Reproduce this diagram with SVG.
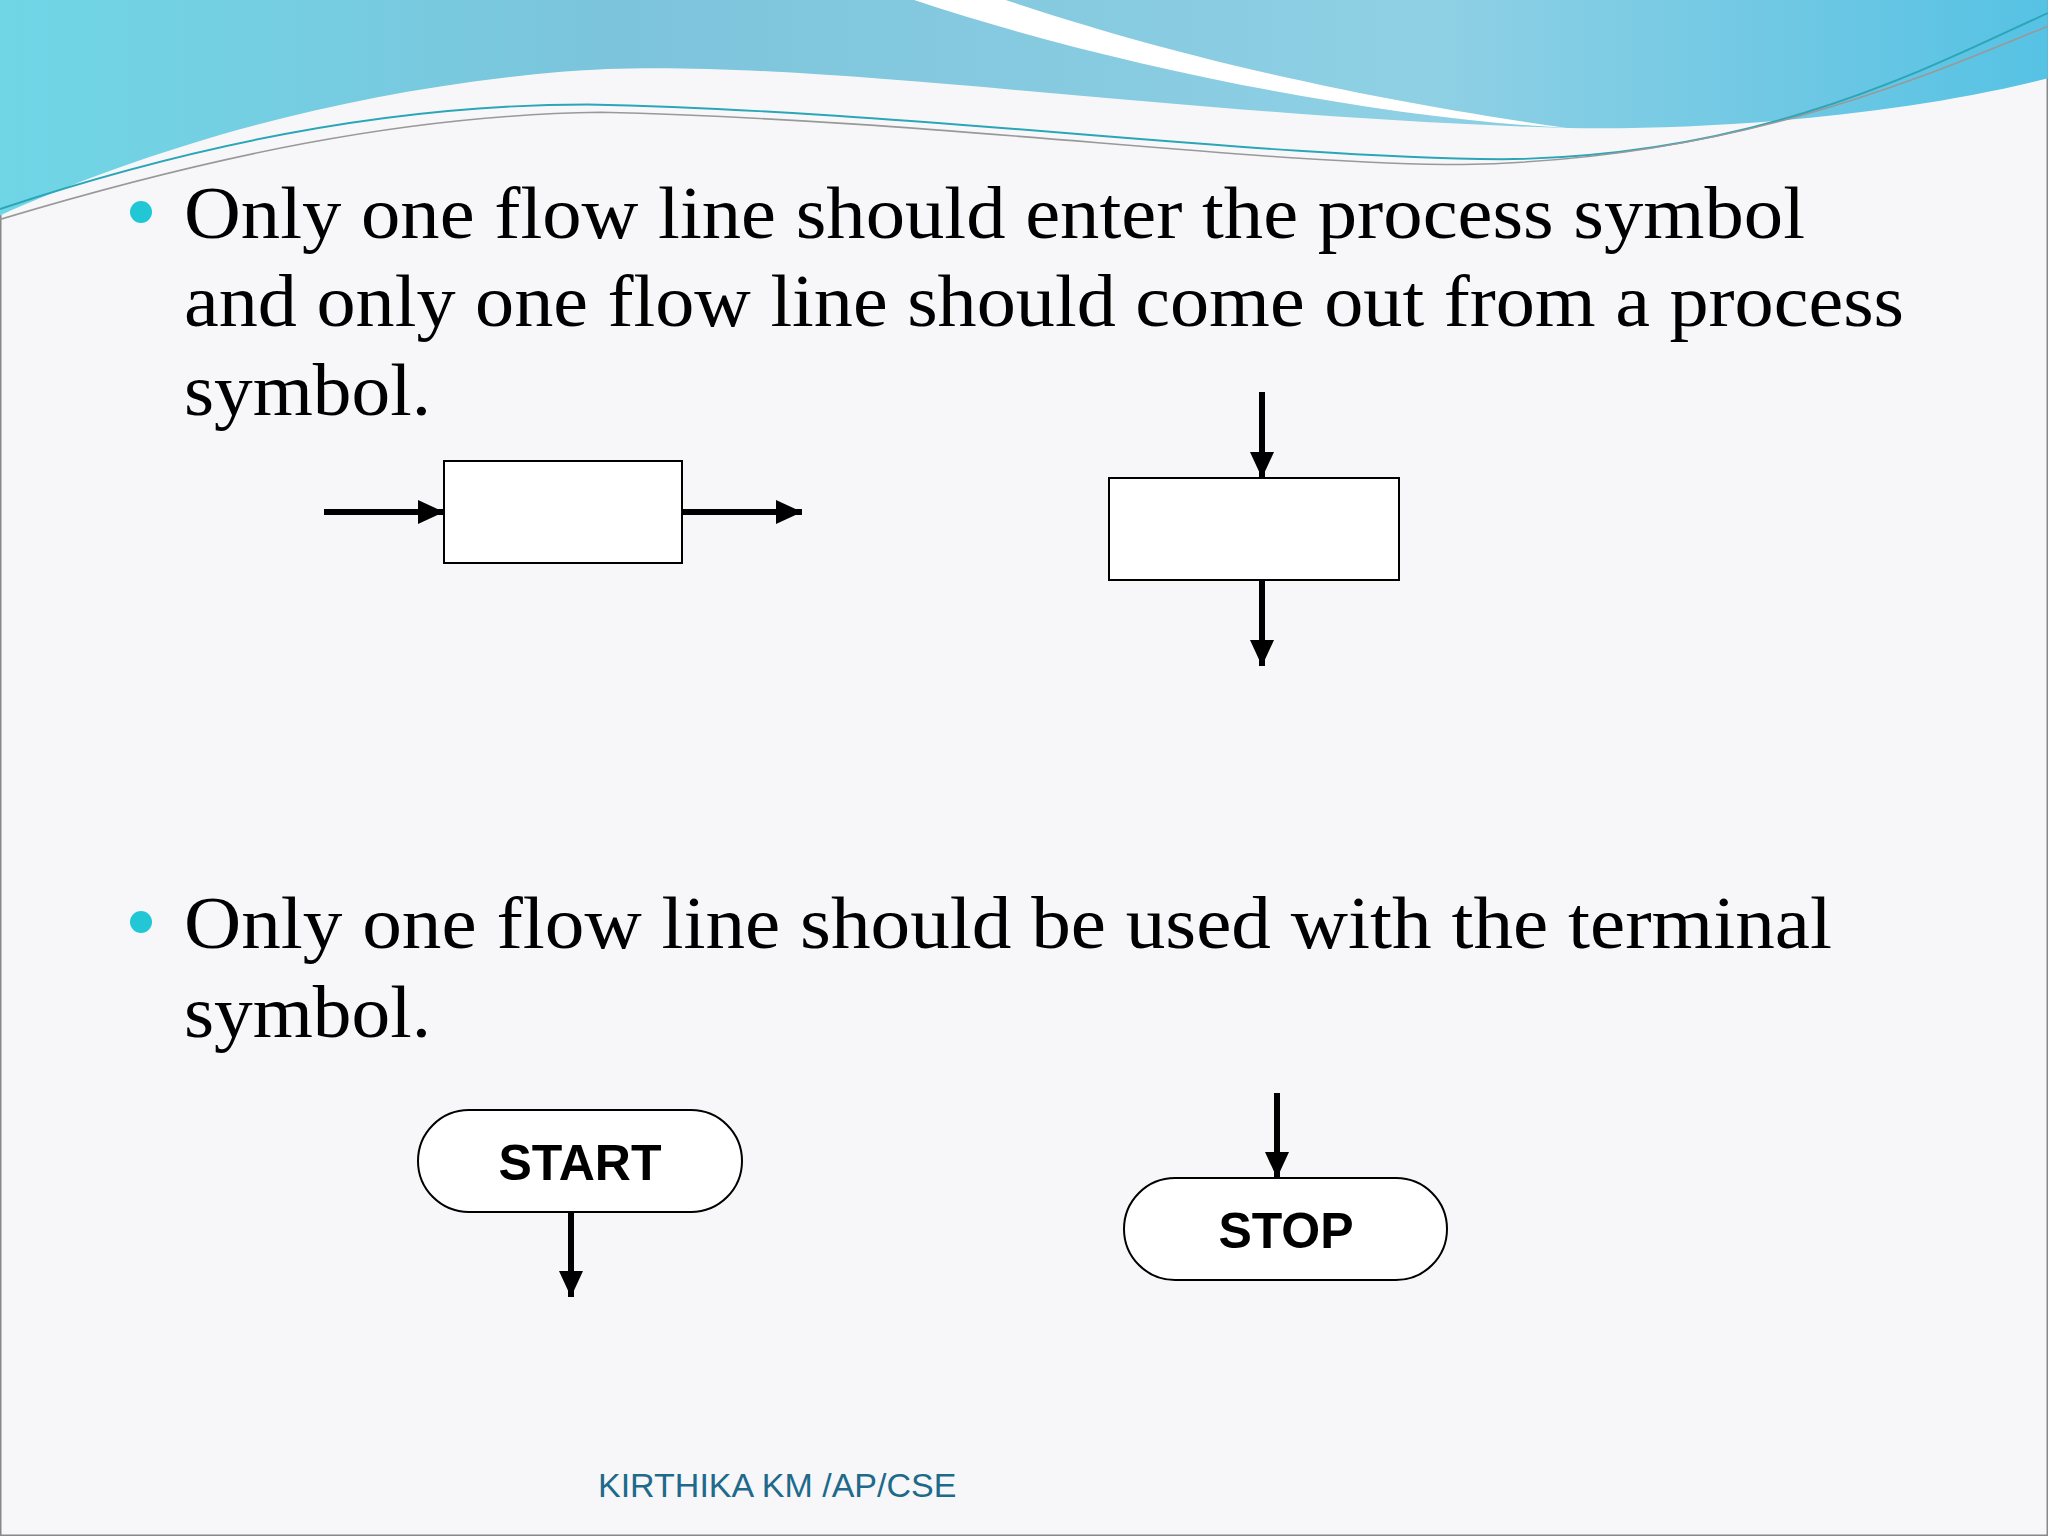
<svg xmlns="http://www.w3.org/2000/svg" width="2048" height="1536" viewBox="0 0 2048 1536">
<style>
.body{font-family:"Liberation Serif","DejaVu Serif",serif;font-size:75px;fill:#000}
.term{font-family:"Liberation Sans",Arial,sans-serif;font-size:50px;font-weight:bold;fill:#000;text-anchor:middle}
.box{fill:#fff;stroke:#000;stroke-width:2}
.flow{stroke:#000;stroke-width:6;fill:none;marker-end:url(#ah)}
</style>
<defs>
<marker id="ah" markerWidth="26" markerHeight="24" refX="26" refY="12" orient="auto" markerUnits="userSpaceOnUse"><path d="M0,0 L26,12 L0,24 Z" fill="#000"/></marker>
<linearGradient id="wg" x1="0" y1="0" x2="1" y2="0"><stop offset="0" stop-color="#6fd6e6"/><stop offset="0.3" stop-color="#7cc4dc"/><stop offset="0.7" stop-color="#8fd0e4"/><stop offset="1" stop-color="#56c2e4"/></linearGradient>
</defs>
<rect width="2048" height="1536" fill="#f7f7fa" stroke="#888" stroke-width="3"/>
<g id="waves" transform="scale(1.306)">
<path d="M0,0 H1568 V60 C1450,90 1300,100 1200,98 C900,90 600,40 430,55 C250,70 100,120 0,165 Z" fill="url(#wg)"/>
<path d="M700,0 C850,50 1050,90 1200,98 C1000,70 860,30 770,0 Z" fill="#fff"/>
<path d="M0,160 C150,110 300,80 450,80 C700,85 950,120 1150,122 C1350,120 1480,50 1568,10" stroke="#2aa6b8" stroke-width="1.5" fill="none"/>
<path d="M0,168 C160,120 310,88 460,86 C720,92 960,126 1120,126 C1330,122 1470,60 1568,20" stroke="#999" stroke-width="1.2" fill="none"/>
</g>
<g id="text1">
<circle cx="141" cy="212" r="11" fill="#22c7d6"/>
<text class="body" x="184" y="238" textLength="1621" lengthAdjust="spacingAndGlyphs">Only one flow line should enter the process symbol</text>
<text class="body" x="184" y="326" textLength="1720" lengthAdjust="spacingAndGlyphs">and only one flow line should come out from a process</text>
<text class="body" x="184" y="415" textLength="247" lengthAdjust="spacingAndGlyphs">symbol.</text>
</g>
<g id="text2">
<circle cx="141" cy="922" r="11" fill="#22c7d6"/>
<text class="body" x="184" y="948" textLength="1648" lengthAdjust="spacingAndGlyphs">Only one flow line should be used with the terminal</text>
<text class="body" x="184" y="1037" textLength="247" lengthAdjust="spacingAndGlyphs">symbol.</text>
</g>
<g id="proc1"><rect class="box" x="444" y="461" width="238" height="102"/></g>
<g id="proc2"><rect class="box" x="1109" y="478" width="290" height="102"/></g>
<g id="start"><rect class="box" x="418" y="1110" width="324" height="102" rx="51"/><text class="term" x="580" y="1180">START</text></g>
<g id="stop"><rect class="box" x="1124" y="1178" width="323" height="102" rx="51"/><text class="term" x="1286" y="1248">STOP</text></g>
<g id="connectors">
<line class="flow" x1="324" y1="512" x2="444" y2="512"/>
<line class="flow" x1="682" y1="512" x2="802" y2="512"/>
<line class="flow" x1="1262" y1="392" x2="1262" y2="478"/>
<line class="flow" x1="1262" y1="580" x2="1262" y2="666"/>
<line class="flow" x1="571" y1="1212" x2="571" y2="1297"/>
<line class="flow" x1="1277" y1="1093" x2="1277" y2="1178"/>
</g>
<text x="598" y="1497" font-family="Liberation Sans,Arial,sans-serif" font-size="34" fill="#1d6a8a">KIRTHIKA KM /AP/CSE</text>
</svg>
